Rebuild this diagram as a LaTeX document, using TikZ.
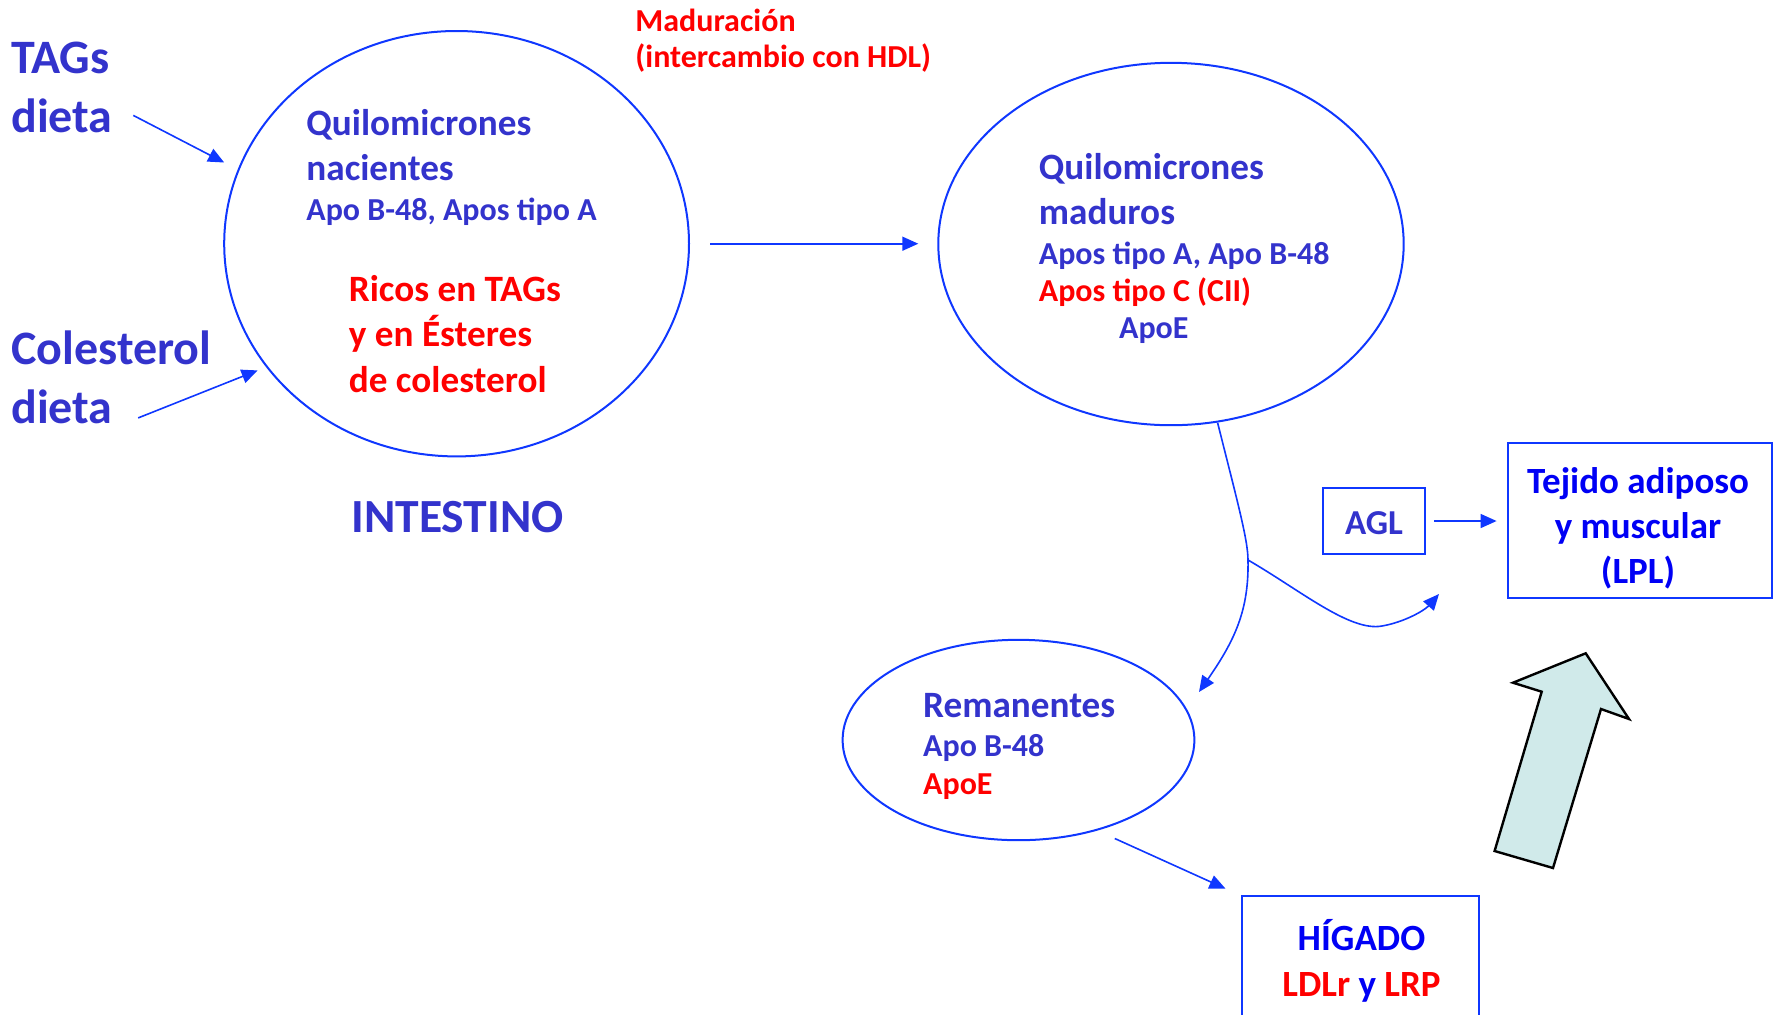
\documentclass[tikz,border=0pt]{standalone}
\usepackage{fontspec}
\setmainfont{Carlito}
\usetikzlibrary{arrows.meta,shapes.geometric}
\definecolor{tblue}{RGB}{51,51,204}
\definecolor{pblue}{RGB}{0,0,245}
\definecolor{lblue}{RGB}{15,55,255}
\definecolor{tred}{RGB}{255,0,0}
\definecolor{afill}{RGB}{208,234,234}
\begin{document}
\begin{tikzpicture}[x=0.5pt,y=-0.5pt,
  txt/.style={inner sep=0pt, anchor=base west},
  big/.style={txt, font=\bfseries\fontsize{24pt}{28pt}\selectfont, text=tblue},
  mid/.style={txt, font=\bfseries\fontsize{18.6pt}{22pt}\selectfont},
  small/.style={txt, font=\bfseries\fontsize{16pt}{19pt}\selectfont},
  oval/.style={ellipse, draw=lblue, line width=1pt, inner sep=0pt},
  box/.style={rectangle, draw=lblue, line width=1pt, inner sep=0pt},
  conn/.style={draw=lblue, line width=0.8pt, -{Triangle[length=8pt,width=7pt]}},
]
\path[use as bounding box] (0,0) rectangle (1779,1014);
\clip (0,0) rectangle (1779,1014);

% ellipses
\node[oval, minimum width=232.4pt, minimum height=212.7pt] (e1) at (456.6,243.7) {};
\node[oval, minimum width=232.7pt, minimum height=181.2pt] (e2) at (1171,244) {};
\node[oval, minimum width=175.9pt, minimum height=100.2pt] (e3) at (1018.5,740) {};

% left labels
\node[big] (tags1) at (10.9,73.2) {TAGs};
\node[big] (tags2) at (10.9,132.1) {dieta};
\node[big] (col1) at (10.9,364.3) {Colesterol};
\node[big] (col2) at (10.9,423.2) {dieta};

% ellipse 1 text
\node[mid, text=tblue] (q1a) at (306,135) {Quilomicrones};
\node[mid, text=tblue] (q1b) at (306,180) {nacientes};
\node[small, text=tblue] (q1c) at (306,220.5) {Apo B-48, Apos tipo A};
\node[mid, text=tred] (r1) at (348.5,301) {Ricos en TAGs};
\node[mid, text=tred] (r2) at (348.5,346.5) {y en Ésteres};
\node[mid, text=tred] (r3) at (348.5,392) {de colesterol};
\node[txt, anchor=base, font=\bfseries\fontsize{23.8pt}{28pt}\selectfont, text=tblue] (intest) at (457.6,532) {INTESTINO};

% maduracion
\node[txt, font=\bfseries\fontsize{16pt}{19pt}\selectfont, text=tred] (mad1) at (635,31.4) {Maduración};
\node[txt, font=\bfseries\fontsize{16pt}{19pt}\selectfont, text=tred] (mad2) at (635,67.1) {(intercambio con HDL)};

% ellipse 2 text
\node[mid, text=tblue] (q2a) at (1038.5,179.5) {Quilomicrones};
\node[mid, text=tblue] (q2b) at (1038.5,224.5) {maduros};
\node[small, text=tblue] (q2c) at (1038.5,264) {Apos tipo A, Apo B-48};
\node[small, text=tred] (q2d) at (1038.5,301) {Apos tipo C (CII)};
\node[small, text=tblue] (q2e) at (1118.7,338.5) {ApoE};

% remanentes text
\node[mid, text=tblue] (rem1) at (922.8,717) {Remanentes};
\node[small, text=tblue] (rem2) at (922.8,756) {Apo B-48};
\node[small, text=tred] (rem3) at (922.8,794.5) {ApoE};

% boxes
\node[box, minimum width=51.35pt, minimum height=32.75pt] (agl) at (1374,521) {};
\node[txt, anchor=center, font=\bfseries\fontsize{17.5pt}{21pt}\selectfont, text=tblue] (aglt) at (1374,523.5) {AGL};
\node[box, minimum width=132.4pt, minimum height=77.75pt] (tej) at (1640,520.7) {};
\node[txt, anchor=center, align=center, font=\bfseries\fontsize{18.5pt}{22.5pt}\selectfont, text=pblue] (tejt) at (1638,528) {Tejido adiposo\\y muscular\\(LPL)};
\node[box, minimum width=118.65pt, minimum height=75pt, anchor=north] (hig) at (1360.35,895) {};
\node[txt, anchor=base, font=\bfseries\fontsize{18.5pt}{22pt}\selectfont, text=pblue] (hig1) at (1361.5,950) {HÍGADO};
\node[txt, anchor=base, font=\bfseries\fontsize{18.5pt}{22pt}\selectfont, text=tred] (hig2) at (1361.5,996) {LDLr \textcolor{pblue}{y} LRP};

% big arrow
\draw[fill=afill, line width=1.2pt, line join=miter] (1585.7,653.3) -- (1629,719) -- (1601,709) -- (1553,868) -- (1494.6,851) -- (1541.7,691.7) -- (1513,682.7) -- cycle;

% connectors
\coordinate (a1s) at (133.3,115.4);
\coordinate (a1e) at (224.2,162.5);
\coordinate (a2s) at (138.2,417.9);
\coordinate (a2e) at (257.6,370.4);
\coordinate (a3s) at (1114.8,838.5);
\coordinate (a3e) at (1225.5,888.6);
\coordinate (c0) at (1217.6,422.7);
\coordinate (cm) at (1248,560);
\coordinate (c1) at (1199,692);
\coordinate (c2) at (1439,594);

\draw[conn] (a1s) -- (a1e);
\draw[conn] (a2s) -- (a2e);
\draw[conn, shorten <=10pt, shorten >=9.5pt] (e1.east) -- (e1.east -| e2.west);
\draw[conn, shorten <=4pt, shorten >=5pt] (agl.east) -- (agl.east -| tej.west);
\draw[conn] (a3s) -- (a3e);
\draw[conn] (c0) .. controls (1237,500) and (1248,540) .. (cm) .. controls (1249,610) and (1235,640) .. (c1);
\draw[conn] (cm) .. controls (1300,590) and (1350,632) .. (1382,626) .. controls (1405,622) and (1425,610) .. (c2);
\end{tikzpicture}
\end{document}
